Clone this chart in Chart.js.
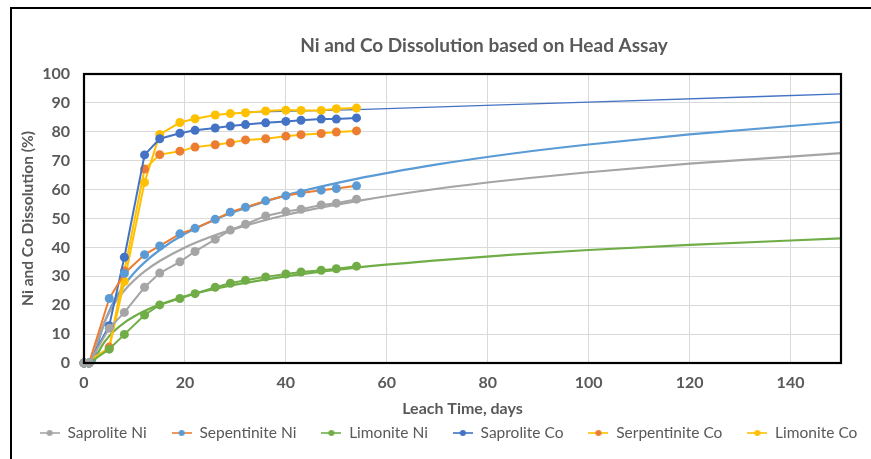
<!DOCTYPE html>
<html><head><meta charset="utf-8">
<script src="https://cdn.jsdelivr.net/npm/chart.js@4"></script>
<style>html,body{margin:0;padding:0;background:#fff;}</style>
</head><body>
<canvas id="c" width="871" height="459"></canvas>
<script>
// ---- data ----
const days = [0, 1, 5, 8, 12, 15, 19, 22, 26, 29, 32, 36, 40, 43, 47, 50, 54];
const saproliteNi    = [0, 0, 12, 17.5, 26.2, 31.1, 35.0, 38.6, 42.8, 46.0, 48.0, 50.9, 52.4, 53.2, 54.7, 55.3, 56.7];
const sepentiniteNi  = [0, 0, 22.3, 31, 37.5, 40.5, 44.7, 46.6, 49.7, 52.2, 53.9, 56.1, 57.9, 58.8, 59.8, 60.4, 61.3];
const limoniteNi     = [0, 0, 4.8, 9.9, 16.6, 20.1, 22.3, 24.0, 26.2, 27.6, 28.6, 29.8, 30.8, 31.5, 32.1, 32.6, 33.5];
const saproliteCo    = [0, 0, 12.9, 36.6, 72, 77.6, 79.5, 80.5, 81.3, 82.0, 82.5, 83.1, 83.6, 84.0, 84.4, 84.4, 84.8];
const serpentiniteCo = [0, 0, 5.5, 31.8, 67.1, 72.1, 73.3, 74.7, 75.5, 76.2, 77.2, 77.6, 78.5, 79.0, 79.4, 79.9, 80.3];
const limoniteCo     = [0, null, 5.1, 28.3, 62.5, 79.1, 83.2, 84.5, 85.8, 86.3, 86.6, 87.2, 87.5, 87.4, 87.4, 88.0, 88.2];

// trend lines
const trendSapNiX  = [1.7, 2, 2.5, 3, 4, 5, 6, 8, 10, 12, 15, 20, 25, 30, 40, 54, 70, 85, 100, 120, 150];
const trendSapNiY  = [0, 2.7, 6.3, 9.2, 13.9, 17.5, 20.5, 25.1, 28.7, 31.7, 35.3, 40.0, 43.6, 46.5, 51.2, 56.0, 60.3, 63.4, 66.0, 69.0, 72.6];
const trendSepNiX  = [1.96, 2.5, 3, 4, 5, 6, 8, 10, 12, 15, 20, 25, 30, 40, 54, 70, 85, 100, 120, 150];
const trendSepNiY  = [0, 4.7, 8.2, 13.7, 18.0, 21.5, 27.0, 31.3, 34.8, 39.1, 44.7, 48.9, 52.4, 58.0, 63.7, 68.7, 72.5, 75.6, 79.1, 83.4];
const trendLimNiX  = [1.96, 2.5, 3, 4, 5, 6, 8, 10, 12, 15, 20, 25, 30, 40, 54, 70, 85, 100, 120, 150];
const trendLimNiY  = [0, 2.4, 4.2, 7.1, 9.3, 11.1, 14.0, 16.2, 18.0, 20.2, 23.1, 25.3, 27.1, 30.0, 33.0, 35.5, 37.5, 39.1, 40.9, 43.1];
const trendCoX     = [32, 54, 100, 150];
const trendCoY     = [86.8, 87.7, 90.3, 93.1];

const seriesNames = ['Saprolite Ni', 'Sepentinite Ni', 'Limonite Ni', 'Saprolite Co', 'Serpentinite Co', 'Limonite Co'];
const xTicks = [0, 20, 40, 60, 80, 100, 120, 140];

const GRAY = '#A5A5A5', LBLUE = '#5B9BD5', GREEN = '#70AD47', DBLUE = '#4472C4', ORANGE = '#ED7D31', YELLOW = '#FFC000';

function pts(xs, ys) { return xs.map((x, i) => ({x: x, y: ys[i]})); }

function series(name, ys, lineColor, markerColor) {
  return {
    label: name, data: pts(days, ys), borderColor: lineColor, backgroundColor: markerColor,
    pointBackgroundColor: markerColor, pointBorderColor: markerColor, pointRadius: 4.5, pointBorderWidth: 0,
    borderWidth: 2, tension: 0, spanGaps: true, fill: false, clip: false, yAxisID: 'y',
    legendLine: lineColor, legendMarker: markerColor
  };
}
function trend(xs, ys, color, width) {
  return {
    label: '_trend', data: pts(xs, ys), borderColor: color, backgroundColor: color, pointRadius: 0,
    borderWidth: width, cubicInterpolationMode: 'monotone', fill: false, isTrend: true, yAxisID: 'y'
  };
}

const datasets = [
  series(seriesNames[0], saproliteNi, GRAY, GRAY),
  series(seriesNames[1], sepentiniteNi, ORANGE, LBLUE),
  series(seriesNames[2], limoniteNi, GREEN, GREEN),
  series(seriesNames[3], saproliteCo, DBLUE, DBLUE),
  series(seriesNames[4], serpentiniteCo, YELLOW, ORANGE),
  series(seriesNames[5], limoniteCo, YELLOW, YELLOW),
  trend(trendSapNiX, trendSapNiY, GRAY, 2.2),
  trend(trendSepNiX, trendSepNiY, LBLUE, 2.2),
  trend(trendLimNiX, trendLimNiY, GREEN, 2.2),
  trend(trendCoX, trendCoY, DBLUE, 1.3)
];

function legendIcon(lineColor, markerColor) {
  const cv = document.createElement('canvas');
  cv.width = 20; cv.height = 10;
  const g = cv.getContext('2d');
  g.strokeStyle = lineColor; g.lineWidth = 1.6;
  g.beginPath(); g.moveTo(0, 5); g.lineTo(20, 5); g.stroke();
  g.fillStyle = markerColor; g.beginPath(); g.arc(10, 5, 3, 0, Math.PI * 2); g.fill();
  return cv;
}

const LEG_PAD = 25, LEG_FONT = 15.5;
const frame = {
  id: 'frame',
  afterLayout(chart) {
    const lg = chart.legend;
    const h = lg.bottom - lg.top;
    lg.top = 433 - LEG_PAD - LEG_FONT / 2; lg.bottom = lg.top + h;
    lg.left += 13; lg.right += 13;
    const t = chart.titleBlock;
    t.left += 48.5; t.right += 48.5;
  },
  afterDraw(chart) {
    const c = chart.ctx, a = chart.chartArea;
    c.save();
    c.strokeStyle = '#000'; c.lineWidth = 2.2;
    c.strokeRect(a.left, a.top, a.right - a.left, a.bottom - a.top);
    c.lineWidth = 2;
    c.beginPath(); c.moveTo(11, 459); c.lineTo(11, 8); c.lineTo(871, 8); c.stroke();
    c.restore();
  }
};

const TXT = '#595959';
new Chart(document.getElementById('c'), {
  type: 'line',
  data: { datasets: datasets },
  plugins: [frame],
  options: {
    responsive: false, animation: false,
    layout: { padding: { left: 0, right: 0, top: 0, bottom: -11.5 } },
    plugins: {
      title: { display: true, text: 'Ni and Co Dissolution based on Head Assay', color: TXT,
        font: { family: 'Lato', size: 19, weight: 'bold' }, padding: { top: 34, bottom: 17.2 } },
      legend: {
        position: 'bottom',
        labels: {
          usePointStyle: true, pointStyleWidth: 20, padding: LEG_PAD, color: TXT,
          font: { family: 'Lato', size: LEG_FONT },
          filter: (item, data) => !data.datasets[item.datasetIndex].isTrend,
          generateLabels: (chart) => chart.data.datasets.map((d, i) => ({
            text: d.label, datasetIndex: i, hidden: false,
            pointStyle: d.isTrend ? 'circle' : legendIcon(d.legendLine, d.legendMarker),
            fillStyle: d.backgroundColor, strokeStyle: d.borderColor, lineWidth: 0, fontColor: TXT
          }))
        }
      },
      tooltip: { enabled: false }
    },
    scales: {
      x: {
        type: 'linear', min: 0, max: 150,
        afterBuildTicks: (s) => { s.ticks = xTicks.map(v => ({ value: v })); },
        afterFit: (s) => { s.height = 57; },
        grid: { color: '#D9D9D9', lineWidth: 1, drawTicks: false },
        border: { display: false },
        ticks: { color: TXT, padding: 10.4, font: { family: 'Lato', size: 16, weight: 'bold' } },
        title: { display: true, text: 'Leach Time, days', color: TXT, padding: { top: 0, bottom: 1.4 },
          font: { family: 'Lato', size: 16, weight: 'bold' } }
      },
      y: {
        min: 0, max: 100,
        afterFit: (s) => { s.width = 84; },
        grid: { color: '#D9D9D9', lineWidth: 1, drawTicks: false },
        border: { display: false },
        ticks: { stepSize: 10, color: TXT, padding: 14, font: { family: 'Lato', size: 16, weight: 'bold' } },
        title: { display: true, text: 'Ni and Co Dissolution (%)', color: TXT, padding: { top: 18.7, bottom: 0 },
          font: { family: 'Lato', size: 15.5, weight: 'bold' } }
      },
      yRightSpacer: {
        position: 'right', display: true,
        afterFit: (s) => { s.width = 30; },
        grid: { display: false, drawTicks: false }, border: { display: false },
        ticks: { display: false }
      }
    }
  }
});
</script>
</body></html>
